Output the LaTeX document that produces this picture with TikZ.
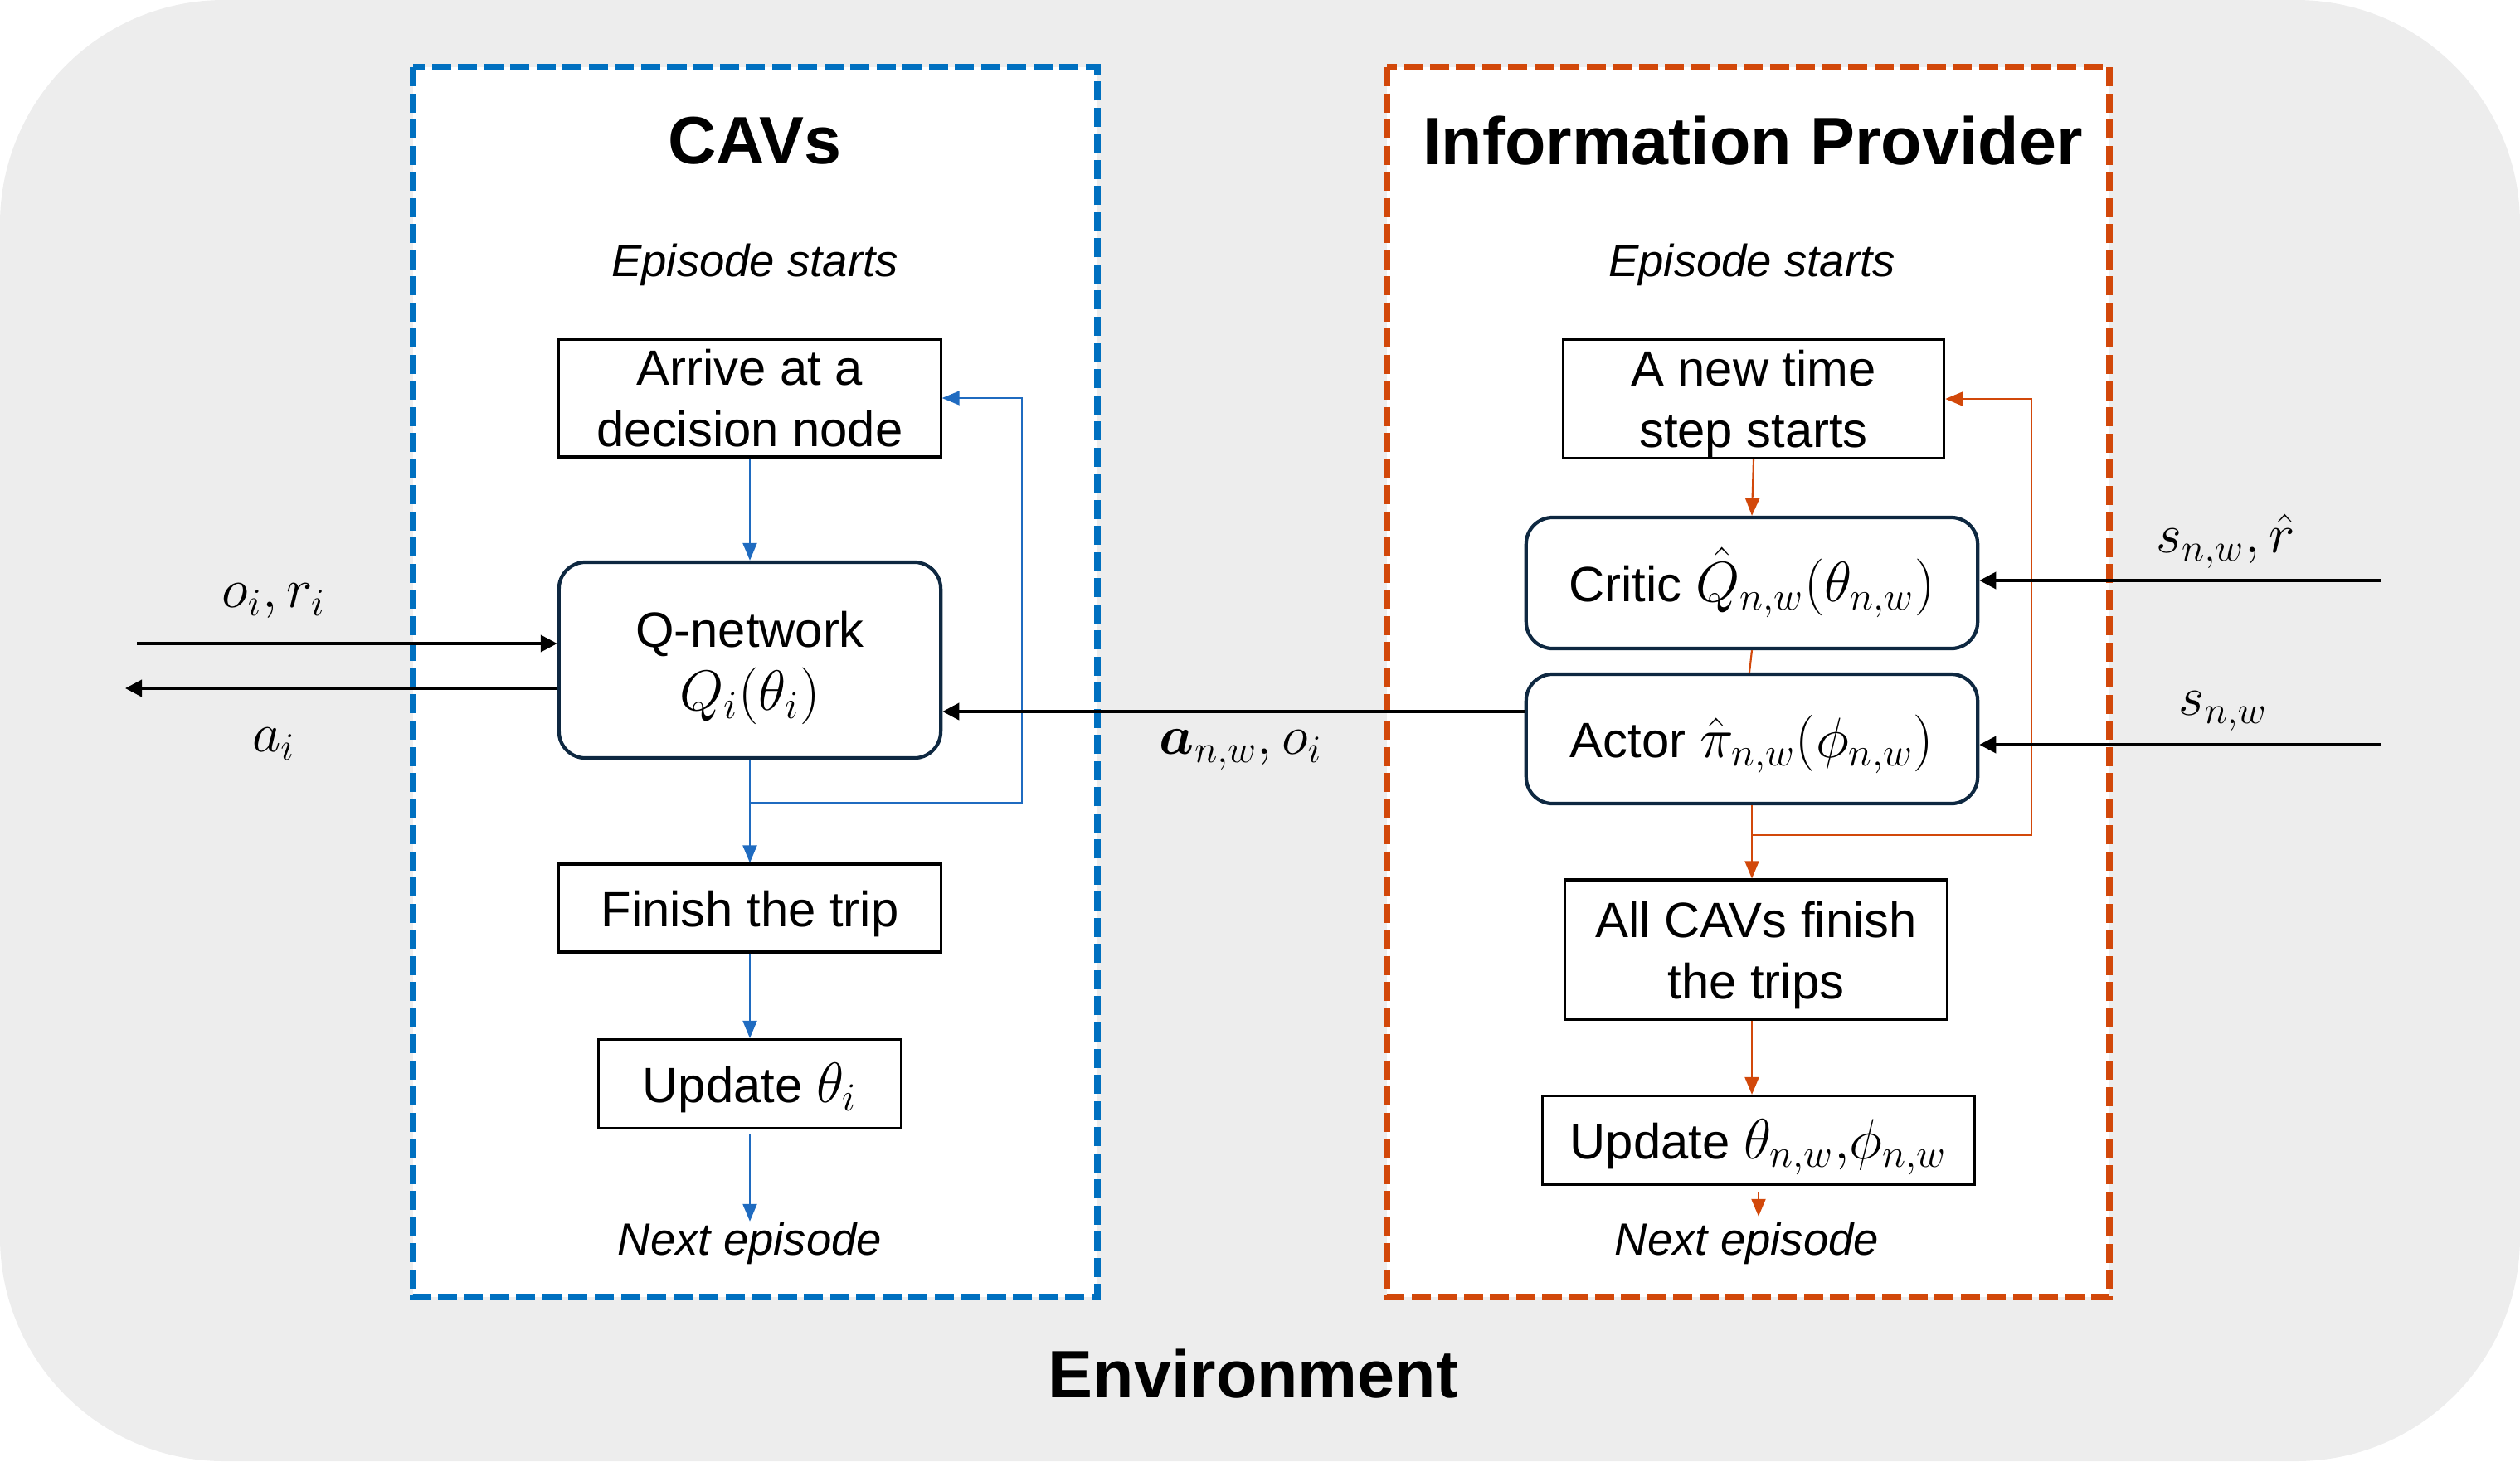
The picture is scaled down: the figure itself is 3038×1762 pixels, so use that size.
\RequirePackage{fix-cm}
\documentclass[tikz,border=0pt]{standalone}
\usepackage{amsmath}
\usepackage{fontspec}
\setmainfont{Liberation Sans}
\usetikzlibrary{arrows.meta}
\definecolor{envgray}{RGB}{237,237,237}
\definecolor{cavblue}{RGB}{0,112,192}
\definecolor{arrblue}{RGB}{31,107,192}
\definecolor{iporange}{RGB}{210,72,10}
\definecolor{navyline}{RGB}{14,40,65}
\newcommand{\mth}[1]{{\fontsize{19.5}{21}\selectfont$#1$}}
\begin{document}
\begin{tikzpicture}[x=0.01cm,y=-0.01cm,
 boxtext/.style={font=\fontsize{17}{21}\selectfont, align=center},
 rectbox/.style={boxtext, draw=black, line width=0.9pt, fill=white, inner sep=0pt},
 roundbox/.style={boxtext, draw=navyline, line width=1.2pt, rounded corners=0.32cm, fill=white, inner sep=0pt},
 oneline/.style={text height=0.48cm, text depth=0.04cm},
 titletext/.style={font=\fontsize{23}{27}\selectfont\bfseries},
 episode/.style={font=\fontsize{15.5}{19}\selectfont\itshape, inner sep=0pt},
 mlabel/.style={font=\fontsize{19}{22}\selectfont},
 groupbox/.style={fill=white, line width=2.1pt, dash pattern=on 0.23cm off 0.085cm},
 bluearrow/.style={draw=arrblue, line width=0.6pt, -{Triangle[length=0.21cm,width=0.17cm]}},
 orangearrow/.style={draw=iporange, line width=0.6pt, -{Triangle[length=0.21cm,width=0.17cm]}},
 blackarrow/.style={draw=black, line width=1.1pt, -{Triangle[length=0.2cm,width=0.2cm]}},
]
\useasboundingbox (0,0) rectangle (3038,1762);
\fill[envgray, rounded corners=2.7cm] (0,0) rectangle (3038,1762);

% group boxes
\draw[groupbox, draw=cavblue] (498,81) rectangle (1323,1564);
\draw[groupbox, draw=iporange] (1672,81) rectangle (2543,1564);

% CAVs column
\node[titletext] (cavs) at (910,170) {CAVs};
\node[episode] (epi1) at (910,319) {Episode starts};
\node[rectbox, minimum width=4.60cm, minimum height=1.42cm] (arrive) at (904,480) {Arrive at a\\decision node};
\node[roundbox, minimum width=4.60cm, minimum height=2.36cm] (qnet) at (904,796) {\rule{0pt}{0.62cm}Q-network\\[0.02cm]\mth{Q_i(\theta_i)}};
\node[rectbox, oneline, minimum width=4.60cm, minimum height=1.06cm] (finish) at (904,1095) {Finish the trip};
\node[rectbox, oneline, minimum width=3.64cm, minimum height=1.07cm] (updi) at (904,1307) {Update \mth{\theta_i}};
\node[episode, anchor=base] (nexti) at (904,1513) {Next episode};

% Information provider column
\node[titletext] (ip) at (2113,170) {Information Provider};
\node[episode] (epi2) at (2112,319) {Episode starts};
\node[rectbox, minimum width=4.59cm, minimum height=1.41cm] (newstep) at (2114,481) {\rule{0pt}{0.56cm}A new time\\step starts};
\node[roundbox, oneline, minimum width=5.44cm, minimum height=1.58cm] (critic) at (2112,703) {Critic \mth{\hat{Q}_{n,w}(\theta_{n,w})}};
\node[roundbox, oneline, minimum width=5.44cm, minimum height=1.56cm] (actor) at (2112,891) {Actor \mth{\hat{\pi}_{n,w}(\phi_{n,w})}};
\node[rectbox, minimum width=4.60cm, minimum height=1.68cm] (allcavs) at (2117,1145) {\rule{0pt}{0.58cm}All CAVs finish\\the trips};
\node[rectbox, oneline, minimum width=5.21cm, minimum height=1.07cm] (updnw) at (2120,1375) {Update \mth{\theta_{n,w}{,}\phi_{n,w}}};
\node[episode, anchor=base] (nextnw) at (2106,1513) {Next episode};

\node[titletext] (env) at (1511,1657) {Environment};

% labels
\node[mlabel] (lbloi) at (330,725) {$o_i, r_i$};
\node[mlabel] (lblai) at (330,897) {$a_i$};
\node[mlabel] (lblmid) at (1496,904) {$\boldsymbol{a}_{n,w}, o_i$};
\node[mlabel] (lblsr) at (2683,653) {$s_{n,w}, \hat{r}$};
\node[mlabel] (lbls) at (2680,858) {$s_{n,w}$};

% coordinates
\coordinate (lin) at (165,776);
\coordinate (lout) at (151,830);
\coordinate (mid) at (1500,858);
\coordinate (rin1) at (2870,700);
\coordinate (rin2) at (2870,898);
\coordinate (fb1) at (904,968);
\coordinate (fb1c) at (1232,968);
\coordinate (fb2) at (2113,1007);
\coordinate (fb2c) at (2449,1007);

% CAV arrows
\draw[bluearrow] (arrive.south) -- (qnet.north);
\draw[bluearrow] (qnet.south) -- (finish.north);
\draw[bluearrow, line width=0.5pt] (fb1) -- (fb1c) |- (arrive.east);
\draw[bluearrow] (finish.south) -- (updi.north);
\draw[bluearrow] ([yshift=-0.06cm]updi.south) -- (nexti.north);

% IP arrows
\draw[orangearrow] (newstep.south) -- (critic.north);
\draw[draw=iporange, line width=0.6pt] (critic.south) -- ([xshift=-0.03cm]actor.north);
\draw[orangearrow] (actor.south) -- (actor.south |- allcavs.north);
\draw[orangearrow, line width=0.5pt] (fb2) -- (fb2c) |- (newstep.east);
\draw[orangearrow] (allcavs.south -| actor.south) -- (actor.south |- updnw.north);
\draw[orangearrow] ([yshift=-0.08cm]updnw.south) -- ([yshift=0.06cm]nextnw.north -| updnw.south);

% black arrows
\draw[blackarrow] (lin) -- (lin -| qnet.west);
\draw[blackarrow] (lout -| qnet.west) -- (lout);
\draw[blackarrow] (mid -| actor.west) -- (mid -| qnet.east);
\draw[blackarrow] (rin1) -- (rin1 -| critic.east);
\draw[blackarrow] (rin2) -- (rin2 -| actor.east);
\end{tikzpicture}
\end{document}
